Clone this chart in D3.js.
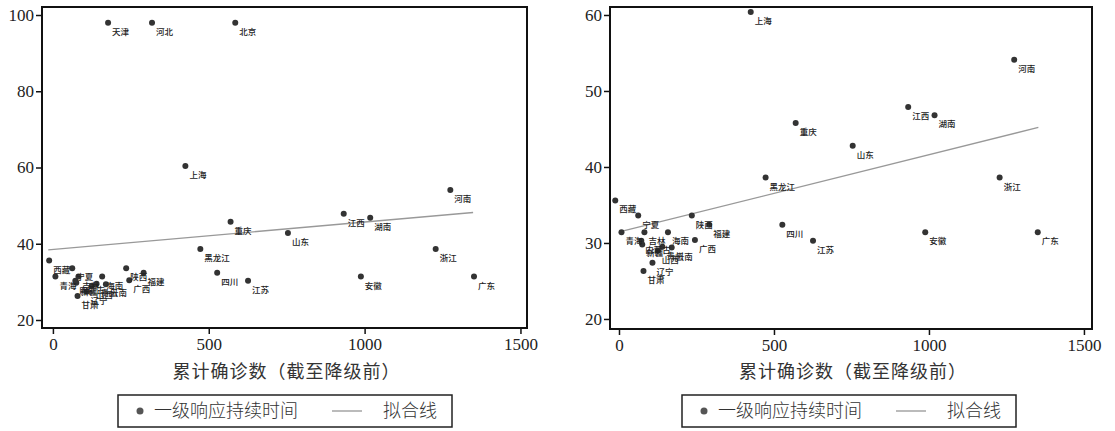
<!DOCTYPE html>
<html>
<head>
<meta charset="utf-8">
<title>一级响应持续时间与累计确诊数</title>
<script src="https://d3js.org/d3.v7.min.js"></script>
<style>
    body { margin: 0; background: #fff; }
    .tick-num { font-family: "Liberation Serif", "DejaVu Serif", serif; font-size: 17px; fill: #222; }
    .cn { font-family: "Noto Sans CJK SC", sans-serif; fill: #333; }
    .lbl { font-family: "Noto Sans CJK SC", sans-serif; font-size: 8.5px; fill: #222; font-weight: 500; }
</style>
</head>
<body>
<div id="chart"></div>
<script>
    // data
    const provinces = ["北京", "天津", "河北", "上海", "河南", "江西", "湖南", "重庆", "山东", "黑龙江",
        "浙江", "四川", "江苏", "安徽", "广东", "西藏", "宁夏", "陕西", "青海", "吉林",
        "海南", "福建", "广西", "辽宁", "甘肃", "贵州", "云南", "山西", "内蒙古", "新疆"];
    const cases = [585, 177, 318, 425, 1275, 933, 1018, 570, 754, 473,
        1228, 527, 626, 988, 1351, -12, 62, 235, 8, 82,
        158, 291, 245, 108, 79, 140, 170, 125, 72, 75];
    const days = [98, 98, 98, 60.4, 54.1, 47.9, 46.8, 45.8, 42.8, 38.6,
        38.6, 32.4, 30.3, 31.4, 31.4, 35.6, 33.6, 33.6, 31.4, 31.4,
        31.4, 32.4, 30.4, 27.4, 26.3, 29.5, 29.4, 29.0, 30.3, 29.8];
    const excludedRight = ["北京", "天津", "河北"];

    const fitLeftX = [-15, 1348], fitLeftY = [38.4, 48.2];
    const fitRightX = [1, 1353], fitRightY = [31.45, 45.2];

    const xTicks = [0, 500, 1000, 1500];
    const yTicksLeft = [20, 40, 60, 80, 100];
    const yTicksRight = [20, 30, 40, 50, 60];

    const xTitle = "累计确诊数（截至降级前）";
    const legendDot = "一级响应持续时间";
    const legendLine = "拟合线";

    const points = provinces.map((p, i) => ({ name: p, x: cases[i], y: days[i] }));

    const svg = d3.select("#chart").append("svg")
        .attr("width", 1115)
        .attr("height", 431);

    function drawPanel(cfg) {
        const x = d3.scaleLinear().domain(cfg.xDomain).range([cfg.left, cfg.right]);
        const y = d3.scaleLinear().domain(cfg.yDomain).range([cfg.bottom, cfg.top]);
        const g = svg.append("g");

        // fit line
        g.append("line")
            .attr("x1", x(cfg.fitX[0])).attr("y1", y(cfg.fitY[0]))
            .attr("x2", x(cfg.fitX[1])).attr("y2", y(cfg.fitY[1]))
            .attr("stroke", "#999")
            .attr("stroke-width", 1.3);

        // points
        g.selectAll("circle.pt")
            .data(cfg.data)
            .enter().append("circle")
            .attr("class", "pt")
            .attr("cx", d => x(d.x))
            .attr("cy", d => y(d.y))
            .attr("r", 3)
            .attr("fill", "#333");

        g.selectAll("text.lbl")
            .data(cfg.data)
            .enter().append("text")
            .attr("class", "lbl")
            .attr("x", d => x(d.x) + 4)
            .attr("y", d => y(d.y) + 12)
            .text(d => d.name);

        // axes
        const yAxis = g.append("g")
            .attr("transform", `translate(${cfg.left},0)`)
            .call(d3.axisLeft(y).tickValues(cfg.yTicks).tickSize(6).tickPadding(2).tickFormat(d3.format("d")));
        yAxis.select(".domain").remove();
        yAxis.selectAll("line").attr("stroke", "#111").attr("stroke-width", 1.5);
        yAxis.selectAll("text").attr("class", "tick-num").attr("font-size", null).attr("font-family", null).attr("fill", null);

        const xAxis = g.append("g")
            .attr("transform", `translate(0,${cfg.bottom})`)
            .call(d3.axisBottom(x).tickValues(xTicks).tickSize(6).tickPadding(4).tickFormat(d3.format("d")));
        xAxis.select(".domain").remove();
        xAxis.selectAll("line").attr("stroke", "#111").attr("stroke-width", 1.5);
        xAxis.selectAll("text").attr("class", "tick-num").attr("font-size", null).attr("font-family", null).attr("fill", null);

        // frame
        g.append("rect")
            .attr("x", cfg.left).attr("y", cfg.top)
            .attr("width", cfg.right - cfg.left)
            .attr("height", cfg.bottom - cfg.top)
            .attr("fill", "none")
            .attr("stroke", "#111")
            .attr("stroke-width", 2);

        // x title
        g.append("text")
            .attr("class", "cn")
            .attr("x", (cfg.left + cfg.right) / 2 + 2)
            .attr("y", 378)
            .attr("text-anchor", "middle")
            .attr("font-size", 18)
            .attr("letter-spacing", 1)
            .text(xTitle);

        // legend
        const lg = g.append("g").attr("transform", `translate(${cfg.legendX},395)`);
        lg.append("rect")
            .attr("width", cfg.legendW).attr("height", 32)
            .attr("fill", "#fff")
            .attr("stroke", "#222")
            .attr("stroke-width", 1.5);
        lg.append("circle").attr("cx", 22).attr("cy", 16).attr("r", 3.5).attr("fill", "#555");
        lg.append("text").attr("class", "cn").attr("x", 36).attr("y", 22)
            .attr("font-size", 18).attr("font-weight", 300).text(legendDot);
        lg.append("line").attr("x1", 214).attr("x2", 244).attr("y1", 16).attr("y2", 16)
            .attr("stroke", "#bbb").attr("stroke-width", 2);
        lg.append("text").attr("class", "cn").attr("x", 265).attr("y", 22)
            .attr("font-size", 18).attr("font-weight", 300).text(legendLine);
    }

    drawPanel({
        data: points,
        left: 42, right: 527, top: 7, bottom: 328,
        xDomain: [-35, 1521], yDomain: [17.9, 102.1],
        yTicks: yTicksLeft,
        fitX: fitLeftX, fitY: fitLeftY,
        legendX: 118, legendW: 334
    });

    drawPanel({
        data: points.filter(d => !excludedRight.includes(d.name)),
        left: 610, right: 1092, top: 7, bottom: 329,
        xDomain: [-29, 1526], yDomain: [18.68, 61.05],
        yTicks: yTicksRight,
        fitX: fitRightX, fitY: fitRightY,
        legendX: 682, legendW: 334
    });
</script>
</body>
</html>
